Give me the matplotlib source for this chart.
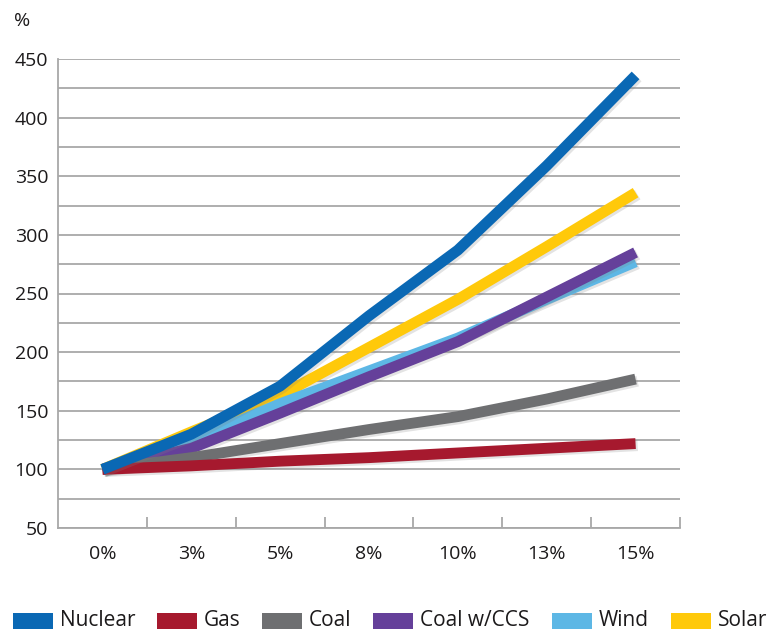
import matplotlib
matplotlib.use("Agg")
import matplotlib.pyplot as plt
import matplotlib.patheffects as pe
from matplotlib.patches import Rectangle
from matplotlib.ticker import MultipleLocator, FixedLocator

plt.rcParams['font.family'] = ['Open Sans', 'DejaVu Sans']

# Discount rate categories and cost index per technology (%)
rates = ["0%", "3%", "5%", "8%", "10%", "13%", "15%"]
nuclear = [100, 130, 171, 231, 287, 359, 436]
gas = [100, 103, 107, 110, 114, 118, 122]
coal = [100, 110, 122, 134, 145, 160, 177]
coal_ccs = [100, 118, 148, 179, 209, 247, 285]
wind = [100, 124, 156, 184, 212, 245, 277]
solar = [100, 132, 163, 204, 245, 290, 336]

series = [
    ("Nuclear", nuclear, "#0a68b4"),
    ("Gas", gas, "#a6192e"),
    ("Coal", coal, "#6e6f71"),
    ("Coal w/CCS", coal_ccs, "#65409a"),
    ("Wind", wind, "#5db7e5"),
    ("Solar", solar, "#ffc90a"),
]

text_color = "#1c1a1b"
grid_color = "#a8a8a8"
W, H = 767, 634

fig = plt.figure(figsize=(W / 100, H / 100), dpi=100)
ax = fig.add_axes([58 / W, 1 - 528 / H, (680 - 58) / W, (528 - 59) / H])

x = list(range(len(rates)))
shadow = [pe.SimpleLineShadow(offset=(1.5, -1.5), shadow_color="#808080", alpha=0.22),
          pe.Normal()]
# later series first so Nuclear sits on top
for name, vals, color in reversed(series):
    ax.plot(x, vals, color=color, lw=7.8, solid_capstyle="butt",
            solid_joinstyle="round", path_effects=shadow, zorder=3)

ax.set_xlim(-0.5, len(rates) - 0.5)
ax.set_ylim(50, 450)
ax.yaxis.set_major_locator(MultipleLocator(50))
ax.yaxis.set_minor_locator(MultipleLocator(25))
ax.grid(axis="y", which="both", color=grid_color, lw=1.3, zorder=1)
ax.set_axisbelow(True)

ax.set_xticks(x)
ax.set_xticklabels(rates)
ax.xaxis.set_minor_locator(FixedLocator([i + 0.5 for i in x]))
ax.tick_params(axis="x", which="major", length=0, pad=12, labelsize=14,
               labelcolor=text_color)
ax.tick_params(axis="x", which="minor", direction="in", length=8, width=1.3,
               color=grid_color)
ax.tick_params(axis="y", which="both", length=0, pad=7, labelsize=14,
               labelcolor=text_color)

for side in ("top", "right"):
    ax.spines[side].set_visible(False)
for side in ("left", "bottom"):
    ax.spines[side].set_color(grid_color)
    ax.spines[side].set_linewidth(1.3)

fig.text(14 / W, 1 - 21 / H, "%", fontsize=14, color=text_color,
         va="center", ha="left")

# legend row along the bottom edge
legend_x = [13, 157, 262, 373, 552, 671]
for (name, _, color), lx in zip(series, legend_x):
    fig.patches.append(Rectangle((lx / W, 1 - 629 / H), 40 / W, 16 / H,
                                 transform=fig.transFigure, facecolor=color,
                                 edgecolor="none"))
    fig.text((lx + 47) / W, 1 - 621 / H, name, fontsize=15, color=text_color,
             va="center", ha="left")

fig.savefig("out.png", dpi=100)
